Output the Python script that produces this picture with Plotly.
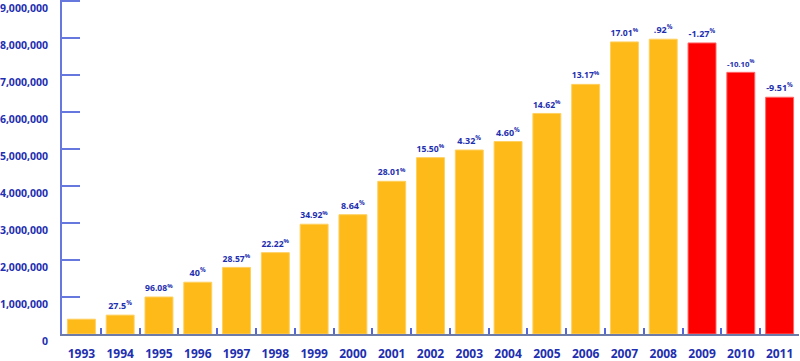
import plotly.graph_objects as go

years = [str(y) for y in range(1993, 2012)]
values = [400000, 510000, 1000000, 1400000, 1800000, 2200000, 2968000, 3225000,
          4128000, 4768000, 4974000, 5203000, 5963000, 6749000, 7897000, 7970000,
          7869000, 7074000, 6401000]
growth = ["", "27.5", "96.08", "40", "28.57", "22.22", "34.92", "8.64", "28.01",
          "15.50", "4.32", "4.60", "14.62", "13.17", "17.01", ".92", "-1.27",
          "-10.10", "-9.51"]
y_ticks = [0, 1000000, 2000000, 3000000, 4000000, 5000000, 6000000, 7000000, 8000000, 9000000]
y_labels = ["0", "1,000,000", "2,000,000", "3,000,000", "4,000,000", "5,000,000",
            "6,000,000", "7,000,000", "8,000,000", "9,000,000"]

GOLD = "#FDBA18"
RED = "#FF0000"
BLUE = "#1E2FB0"
colors = [RED if g.startswith("-") else GOLD for g in growth]
borders = ["#FF6666" if g.startswith("-") else "#FFD060" for g in growth]
texts = [f"{g}<sup>%</sup>" if g else "" for g in growth]

fig = go.Figure(go.Bar(
    x=years, y=values,
    marker=dict(color=colors, line=dict(color=borders, width=1)),
    text=texts, textposition="outside", cliponaxis=False,
    textfont=dict(family="Open Sans", size=9, color=BLUE, weight="bold"),
))

fig.update_layout(
    width=800, height=361,
    margin=dict(l=62, r=1, t=0, b=27, autoexpand=False),
    plot_bgcolor="white", paper_bgcolor="white",
    bargap=0.28, showlegend=False,
    font=dict(family="Open Sans", color=BLUE),
)
fig.update_xaxes(
    type="category", showgrid=False, automargin=False,
    showline=True, linecolor="#6C7BA8", linewidth=2,
    ticks="inside", tickson="boundaries", ticklen=6, tickwidth=1.5, tickcolor="#5566D8",
    tickfont=dict(family="Open Sans", size=12, color=BLUE, weight="bold"),
    ticklabelstandoff=8,
)
fig.update_yaxes(
    range=[0, 9030000], showgrid=False, zeroline=False, automargin=False,
    showline=True, linecolor="#6677DD", linewidth=2,
    tickmode="array", tickvals=y_ticks, ticktext=y_labels,
    ticks="inside", ticklen=18, tickwidth=2, tickcolor="#6677DD",
    tickfont=dict(family="Open Sans", size=10.5, color=BLUE, weight="bold"),
    ticklabelshift=7, ticklabelstandoff=10,
)

fig.write_html("out.html", config={"displayModeBar": False},
               post_script="document.body.style.margin='0';document.body.style.overflow='hidden';")
